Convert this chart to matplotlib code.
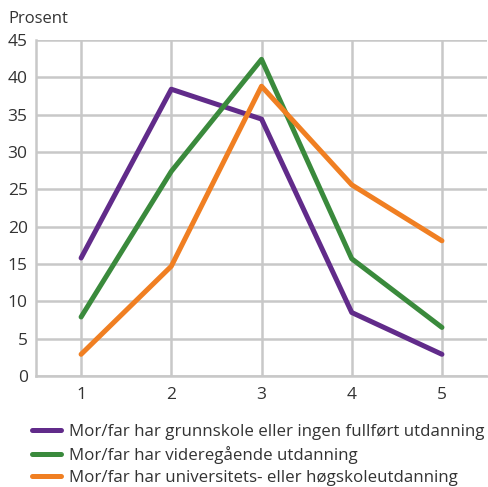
import matplotlib
matplotlib.use("Agg")
import matplotlib.pyplot as plt

plt.rcParams['font.family'] = ['Open Sans', 'DejaVu Sans']

categories = [1, 2, 3, 4, 5]
grunnskole = [15.8, 38.4, 34.4, 8.5, 2.9]
videregaende = [7.9, 27.4, 42.4, 15.7, 6.5]
universitet = [2.9, 14.7, 38.8, 25.6, 18.1]
labels = ["Mor/far har grunnskole eller ingen fullført utdanning",
          "Mor/far har videregående utdanning",
          "Mor/far har universitets- eller høgskoleutdanning"]
colors = ["#612B8A", "#3A8A3C", "#F07F22"]
yticks = [0, 5, 10, 15, 20, 25, 30, 35, 40, 45]

fig = plt.figure(figsize=(4.89, 4.87), dpi=100)
ax = fig.add_axes([0.0736, 0.228, 0.9224, 0.690])
grid_c = "#C8C8C8"
for vals, c, lab in zip([grunnskole, videregaende, universitet], colors, labels):
    ax.plot(categories, vals, color=c, lw=3.6, label=lab, solid_capstyle='round', zorder=3)

ax.set_xlim(0.5, 5.5)
ax.set_ylim(0, 45)
ax.set_yticks(yticks)
ax.set_xticks(categories)
ax.grid(True, color=grid_c, lw=1.8, zorder=0)
for s in ['top', 'right']:
    ax.spines[s].set_visible(False)
for s in ['left', 'bottom']:
    ax.spines[s].set_color(grid_c)
    ax.spines[s].set_linewidth(1.8)
ax.tick_params(length=0, labelsize=12.5, colors="#333333", pad=6)
ax.tick_params(axis='x', pad=8)
ax.set_axisbelow(True)
fig.text(0.018, 0.945, "Prosent", fontsize=12, color="#333333", va='bottom')

fig.legend(loc='lower left', bbox_to_anchor=(0.058, -0.005), frameon=False,
           fontsize=12.2, handlelength=1.75, handletextpad=0.45, labelspacing=0.35,
           borderaxespad=0.0, borderpad=0.2, labelcolor="#333333")
fig.savefig("out.png", dpi=100)
